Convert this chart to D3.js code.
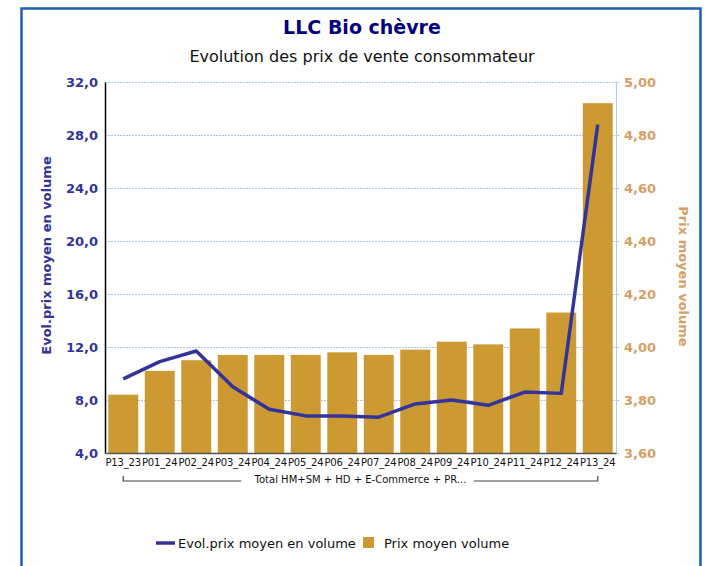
<!DOCTYPE html>
<html>
<head>
<meta charset="utf-8">
<script src="https://cdn.jsdelivr.net/npm/d3@7"></script>
<style>
  body { margin: 0; background: #fff; }
  svg { display: block; font-family: "DejaVu Sans", Verdana, sans-serif; }
</style>
</head>
<body>
<script>
// data
var periodes = ["P13_23", "P01_24", "P02_24", "P03_24", "P04_24", "P05_24", "P06_24",
                "P07_24", "P08_24", "P09_24", "P10_24", "P11_24", "P12_24", "P13_24"];
var prixMoyen = [3.82, 3.91, 3.95, 3.97, 3.97, 3.97, 3.98, 3.97, 3.99, 4.02, 4.01, 4.07, 4.13, 4.92];
var evolPrix = [9.6, 10.9, 11.7, 9.0, 7.3, 6.8, 6.8, 6.7, 7.7, 8.0, 7.6, 8.6, 8.5, 28.8];
var leftTicks = [4, 8, 12, 16, 20, 24, 28, 32];
var rightTicks = [3.6, 3.8, 4.0, 4.2, 4.4, 4.6, 4.8, 5.0];
var groupLabel = "Total HM+SM + HD + E-Commerce + PR...";

var W = 706, H = 566;
var margin = {top: 82, right: 90, bottom: 113, left: 105},
    width = W - margin.left - margin.right,
    height = H - margin.top - margin.bottom;

var blue = "#333399", tan = "#D4A068", barCol = "#CC9933";
var fr = d3.formatLocale({decimal: ",", thousands: " ", grouping: [3], currency: ["", "€"]});

var svg = d3.select("body").append("svg")
    .attr("width", W)
    .attr("height", H);

// outer frame
svg.append("path")
    .attr("d", "M21.5," + H + "V8.5H700.5V" + H)
    .attr("fill", "none")
    .attr("stroke", "#1f5fb4")
    .attr("stroke-width", 2.5);

svg.append("text")
    .attr("x", 362).attr("y", 34)
    .attr("text-anchor", "middle")
    .style("font-size", "19px").style("font-weight", "bold")
    .attr("fill", "#000080")
    .text("LLC Bio chèvre");

svg.append("text")
    .attr("x", 362).attr("y", 62)
    .attr("text-anchor", "middle")
    .style("font-size", "16px")
    .attr("fill", "#111")
    .text("Evolution des prix de vente consommateur");

var g = svg.append("g")
    .attr("transform", "translate(" + margin.left + "," + margin.top + ")");

var x = d3.scaleBand().domain(periodes).range([0, width]).paddingInner(0.18).paddingOuter(0.09);
var yL = d3.scaleLinear().domain([4, 32]).range([height, 0]);
var yR = d3.scaleLinear().domain([3.6, 5.0]).range([height, 0]);

// grid
g.append("g").selectAll("line")
    .data(leftTicks.slice(1))
  .enter().append("line")
    .attr("x1", 0).attr("x2", width)
    .attr("y1", function(d) { return Math.round(yL(d)) + 0.5; })
    .attr("y2", function(d) { return Math.round(yL(d)) + 0.5; })
    .attr("stroke", "#a9c4e4")
    .attr("stroke-dasharray", "2,1");

// bars
g.selectAll("rect.bar")
    .data(prixMoyen)
  .enter().append("rect")
    .attr("class", "bar")
    .attr("x", function(d, i) { return x(periodes[i]); })
    .attr("width", x.bandwidth())
    .attr("y", function(d) { return yR(d); })
    .attr("height", function(d) { return height - yR(d); })
    .attr("fill", barCol);

// line
var line = d3.line()
    .x(function(d, i) { return x(periodes[i]) + x.bandwidth() / 2; })
    .y(function(d) { return yL(d); });

g.append("path")
    .datum(evolPrix)
    .attr("d", line)
    .attr("fill", "none")
    .attr("stroke", blue)
    .attr("stroke-width", 3.5)
    .attr("stroke-linejoin", "round");

// left axis
var axL = g.append("g")
    .call(d3.axisLeft(yL).tickValues(leftTicks).tickSize(0).tickPadding(7).tickFormat(fr.format(".1f")));
axL.select(".domain").attr("stroke", "#000").attr("stroke-width", 1.5);
axL.selectAll("text")
    .attr("fill", blue)
    .style("font-size", "13px").style("font-weight", "bold")
    .style("font-family", "DejaVu Sans, sans-serif");

// right axis
var axR = g.append("g")
    .attr("transform", "translate(" + width + ",0)")
    .call(d3.axisRight(yR).tickValues(rightTicks).tickSize(3).tickPadding(5).tickFormat(fr.format(".2f")));
axR.select(".domain").attr("stroke", "#a9cdf0");
axR.selectAll(".tick line").attr("stroke", "#a9cdf0");
axR.selectAll("text")
    .attr("fill", tan)
    .style("font-size", "13px").style("font-weight", "bold")
    .style("font-family", "DejaVu Sans, sans-serif");

// bottom axis
var axB = g.append("g")
    .attr("transform", "translate(0," + height + ")")
    .call(d3.axisBottom(x).tickSize(0).tickPadding(6));
axB.select(".domain").attr("stroke", "#555").attr("stroke-width", 1.5);
axB.selectAll("text")
    .attr("fill", "#111")
    .style("font-size", "10px")
    .style("letter-spacing", "-0.15px")
    .style("font-family", "DejaVu Sans, sans-serif");

// group bracket under the categories
var gx0 = x(periodes[0]) + x.bandwidth() / 2,
    gx1 = x(periodes[periodes.length - 1]) + x.bandwidth() / 2,
    gy = height + 28;
var grp = g.append("g");
grp.append("text")
    .attr("x", (gx0 + gx1) / 2).attr("y", gy + 2)
    .attr("text-anchor", "middle")
    .attr("fill", "#111")
    .style("font-size", "10px")
    .text(groupLabel);
grp.append("path")
    .attr("d", "M" + gx0 + "," + (gy - 5) + "V" + gy + "H" + (gx0 + 118) +
               "M" + (gx1 - 124) + "," + gy + "H" + gx1 + "V" + (gy - 5))
    .attr("fill", "none")
    .attr("stroke", "#444")
    .attr("stroke-width", 1.2);

// axis titles
svg.append("text")
    .attr("transform", "translate(51," + (margin.top + height / 2 - 12) + ") rotate(-90)")
    .attr("text-anchor", "middle")
    .attr("fill", blue)
    .style("font-size", "13px").style("font-weight", "bold")
    .text("Evol.prix moyen en volume");

svg.append("text")
    .attr("transform", "translate(679," + (margin.top + height / 2 + 9) + ") rotate(90)")
    .attr("text-anchor", "middle")
    .attr("fill", tan)
    .style("font-size", "13px").style("font-weight", "bold")
    .text("Prix moyen volume");

// legend
var leg = svg.append("g").attr("transform", "translate(156,543)");
leg.append("line")
    .attr("x1", 0).attr("x2", 19).attr("y1", 0).attr("y2", 0)
    .attr("stroke", blue).attr("stroke-width", 3.5);
leg.append("text")
    .attr("x", 22).attr("y", 5)
    .attr("fill", "#111").style("font-size", "13px")
    .text("Evol.prix moyen en volume");
leg.append("rect")
    .attr("x", 207).attr("y", -6).attr("width", 11).attr("height", 11)
    .attr("fill", barCol);
leg.append("text")
    .attr("x", 228).attr("y", 5)
    .attr("fill", "#111").style("font-size", "13px")
    .text("Prix moyen volume");
</script>
</body>
</html>
